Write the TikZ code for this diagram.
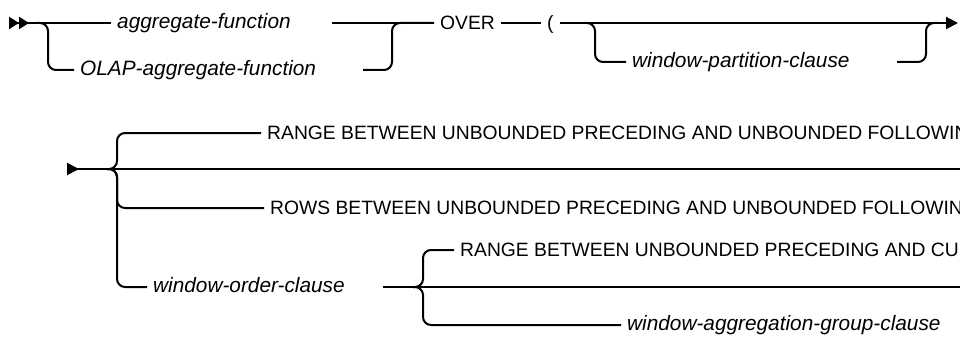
\documentclass[tikz,border=0pt]{standalone}
\usepackage{fontspec}
\setmainfont{Liberation Sans}
\usetikzlibrary{arrows.meta}

\begin{document}
\begin{tikzpicture}[
    x=1pt, y=1pt,
    keyword/.style={anchor=west, inner xsep=6pt, inner ysep=0pt,
                    text height=13.8pt, text depth=0pt,
                    font=\fontsize{19.3}{22}\selectfont},
    var/.style={keyword, text height=11pt,
                font=\fontsize{20.8}{24}\selectfont\itshape},
    rail/.style={line width=2pt},
    branch/.style={rail, rounded corners=8pt}
]

\path[use as bounding box] (0,0) rectangle (960,-342);
\clip (0,0) rectangle (960,-342);

% Row 1: function, OVER and partition clause
\coordinate (s1) at (9,-23);
\node[var] (aggfn) at (111,-23) {aggregate-function};
\node[var] (olapfn) at (74,-70) {OLAP-aggregate-function};
\node[keyword] (over) at (434,-23) {OVER};
\node[keyword] (lparen) at (541,-23) {(};
\node[var] (partition) at (626,-62) {window-partition-clause};
\coordinate (e1) at (958,-23);

\coordinate (forkA) at (36,-23);
\coordinate (downA) at (48,-70);
\coordinate (backA) at (363,-70);
\coordinate (joinA) at (392,-23);
\coordinate (resumeA) at (332,-23);
\coordinate (forkB) at (585,-23);
\coordinate (downB) at (595,-62);
\coordinate (backB) at (897,-62);
\coordinate (joinB) at (926,-23);

\draw[rail, {Triangle[reversed, length=10pt, width=12pt]Triangle[reversed, length=10pt, width=12pt]}-]
    (s1) -- (aggfn);
\draw[branch] (forkA) -| (downA) -- (olapfn);
\draw[rail] (resumeA) -- (over);
\draw[branch] (backA) -| (joinA) -- (over);
\draw[rail] (over) -- (lparen);
\draw[rail, -{Triangle[length=12pt, width=12pt]}] (lparen) -- (e1);
\draw[branch] (forkB) -| (downB) -- (partition);
\draw[branch] (backB) -| (joinB) -- ++(12,0);

% Row 2: window frame choices
\coordinate (s2) at (67,-169);
\coordinate (e2) at (960,-169);
\coordinate (forkC) at (107,-169);
\coordinate (upC) at (117,-133);
\coordinate (rowsC) at (117,-208);
\coordinate (ordC) at (117,-287);
\node[keyword] (rangeall) at (261,-133)
    {RANGE BETWEEN UNBOUNDED PRECEDING AND UNBOUNDED FOLLOWING};
\node[keyword] (rowsall) at (264,-208)
    {ROWS BETWEEN UNBOUNDED PRECEDING AND UNBOUNDED FOLLOWING};
\node[var] (order) at (147,-287) {window-order-clause};

\coordinate (resumeC) at (383,-287);
\coordinate (forkD) at (413,-287);
\coordinate (upD) at (423,-250);
\coordinate (downD) at (423,-325);
\coordinate (e3) at (960,-287);
\node[keyword] (rangecur) at (454,-250)
    {RANGE BETWEEN UNBOUNDED PRECEDING AND CURRENT ROW};
\node[var] (aggrgroup) at (621,-325) {window-aggregation-group-clause};

\draw[rail, {Triangle[reversed, length=12pt, width=12pt]}-] (s2) -- (e2);
\draw[branch] (forkC) -| (upC) -- (rangeall);
\draw[branch] (forkC) -| (rowsC) -- (rowsall);
\draw[branch] (forkC) -| (ordC) -- (order);
\draw[rail] (resumeC) -- (e3);
\draw[branch] (forkD) -| (upD) -- (rangecur);
\draw[branch] (forkD) -| (downD) -- (aggrgroup);

\end{tikzpicture}
\end{document}
